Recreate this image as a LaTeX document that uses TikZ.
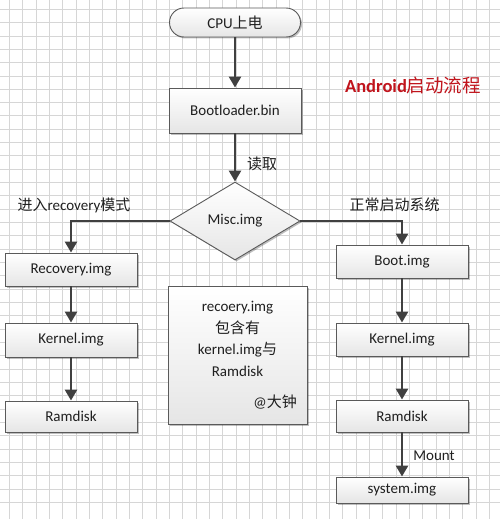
\documentclass[tikz,border=0pt]{standalone}
\usepackage{fontspec}
\setmainfont{Carlito}
\newfontfamily\cjk{Noto Sans CJK SC}
\usetikzlibrary{arrows.meta,shapes.geometric,shadows}
\definecolor{gridc}{RGB}{214,214,214}
\definecolor{arrc}{RGB}{64,64,64}
\definecolor{boxline}{RGB}{90,90,90}
\definecolor{titlec}{RGB}{192,20,28}
\tikzset{
  base/.style={draw=boxline, line width=0.9pt, top color=white, bottom color=black!10,
    drop shadow={shadow xshift=1.5pt, shadow yshift=-1.5pt, opacity=0.25, fill=black},
    font=\fontsize{15}{18}\selectfont, text=black!88, inner sep=0pt},
  procbox/.style={base, rectangle, minimum width=132pt},
  startbox/.style={base, rectangle, rounded corners=14.5pt, minimum width=131pt, minimum height=29pt},
  decbox/.style={base, diamond, minimum width=130pt, minimum height=78pt, aspect=1.667},
  flow/.style={draw=arrc, line width=2.6pt, -{Triangle[length=11pt,width=12pt]}},
  lbl/.style={font=\fontsize{15}{18}\selectfont, text=black!88, inner sep=0pt},
}
\begin{document}
\begin{tikzpicture}[x=1pt,y=-1pt]
\fill[white] (0,0) rectangle (500,519);
\useasboundingbox (0,0) rectangle (500,519);
\foreach \i in {0,...,37} {
  \draw[gridc, line width=0.7pt] ({9.3+13.33*\i},0) -- ({9.3+13.33*\i},519);
  \draw[gridc, line width=0.7pt] (0,{9.2+13.33*\i}) -- (500,{9.2+13.33*\i});
}
% nodes
\node[startbox] (cpu) at (235,22.5) {CPU{\cjk 上电}};
\node[procbox, minimum height=45pt] (boot) at (235,110.5) {Bootloader.bin};
\node[decbox] (misc) at (235,221) {Misc.img};
\node[procbox, minimum height=33pt] (rec) at (71,269.5) {Recovery.img};
\node[procbox, minimum height=34pt] (lker) at (71,340) {Kernel.img};
\node[procbox, minimum height=31pt] (lram) at (71,416.5) {Ramdisk};
\node[procbox, minimum height=33pt] (bimg) at (402,261.5) {Boot.img};
\node[procbox, minimum height=33pt] (rker) at (402,339.5) {Kernel.img};
\node[procbox, minimum height=32pt] (rram) at (402,416) {Ramdisk};
\node[procbox, minimum height=26pt] (sys) at (402,490) {system.img};
\node[base, rectangle, minimum width=139pt, minimum height=138pt] (note) at (237.5,355) {};
\node[lbl, align=center, anchor=north] (notetext) at (237.5,301) {recoery.img\\[3.5pt]{\cjk 包含有}\\[3.5pt]kernel.img{\cjk 与}\\[3.5pt]Ramdisk};
\node[lbl, anchor=east] (sign) at (297,402) {@{\cjk 大钟}};
% labels
\node[lbl] (read) at (262,164) {\cjk 读取};
\node[lbl] (lrec) at (74,205) {{\cjk 进入}recovery{\cjk 模式}};
\node[lbl] (lnorm) at (394.5,205) {\cjk 正常启动系统};
\node[lbl] (lmount) at (434,456) {Mount};
\node[font=\fontsize{18.5}{22}\selectfont, text=titlec, inner sep=0pt] (title) at (413,85) {\textbf{Android}{\cjk 启动流程}};
% connectors
\draw[flow] (cpu) -- (boot);
\draw[flow] (boot) -- (misc);
\draw[flow] (misc.west) -| (rec.north);
\draw[flow] (misc.east) -| (bimg.north);
\draw[flow] (rec) -- (lker);
\draw[flow] (lker) -- (lram);
\draw[flow] (bimg) -- (rker);
\draw[flow] (rker) -- (rram);
\draw[flow] (rram) -- (sys);
\end{tikzpicture}
\end{document}
